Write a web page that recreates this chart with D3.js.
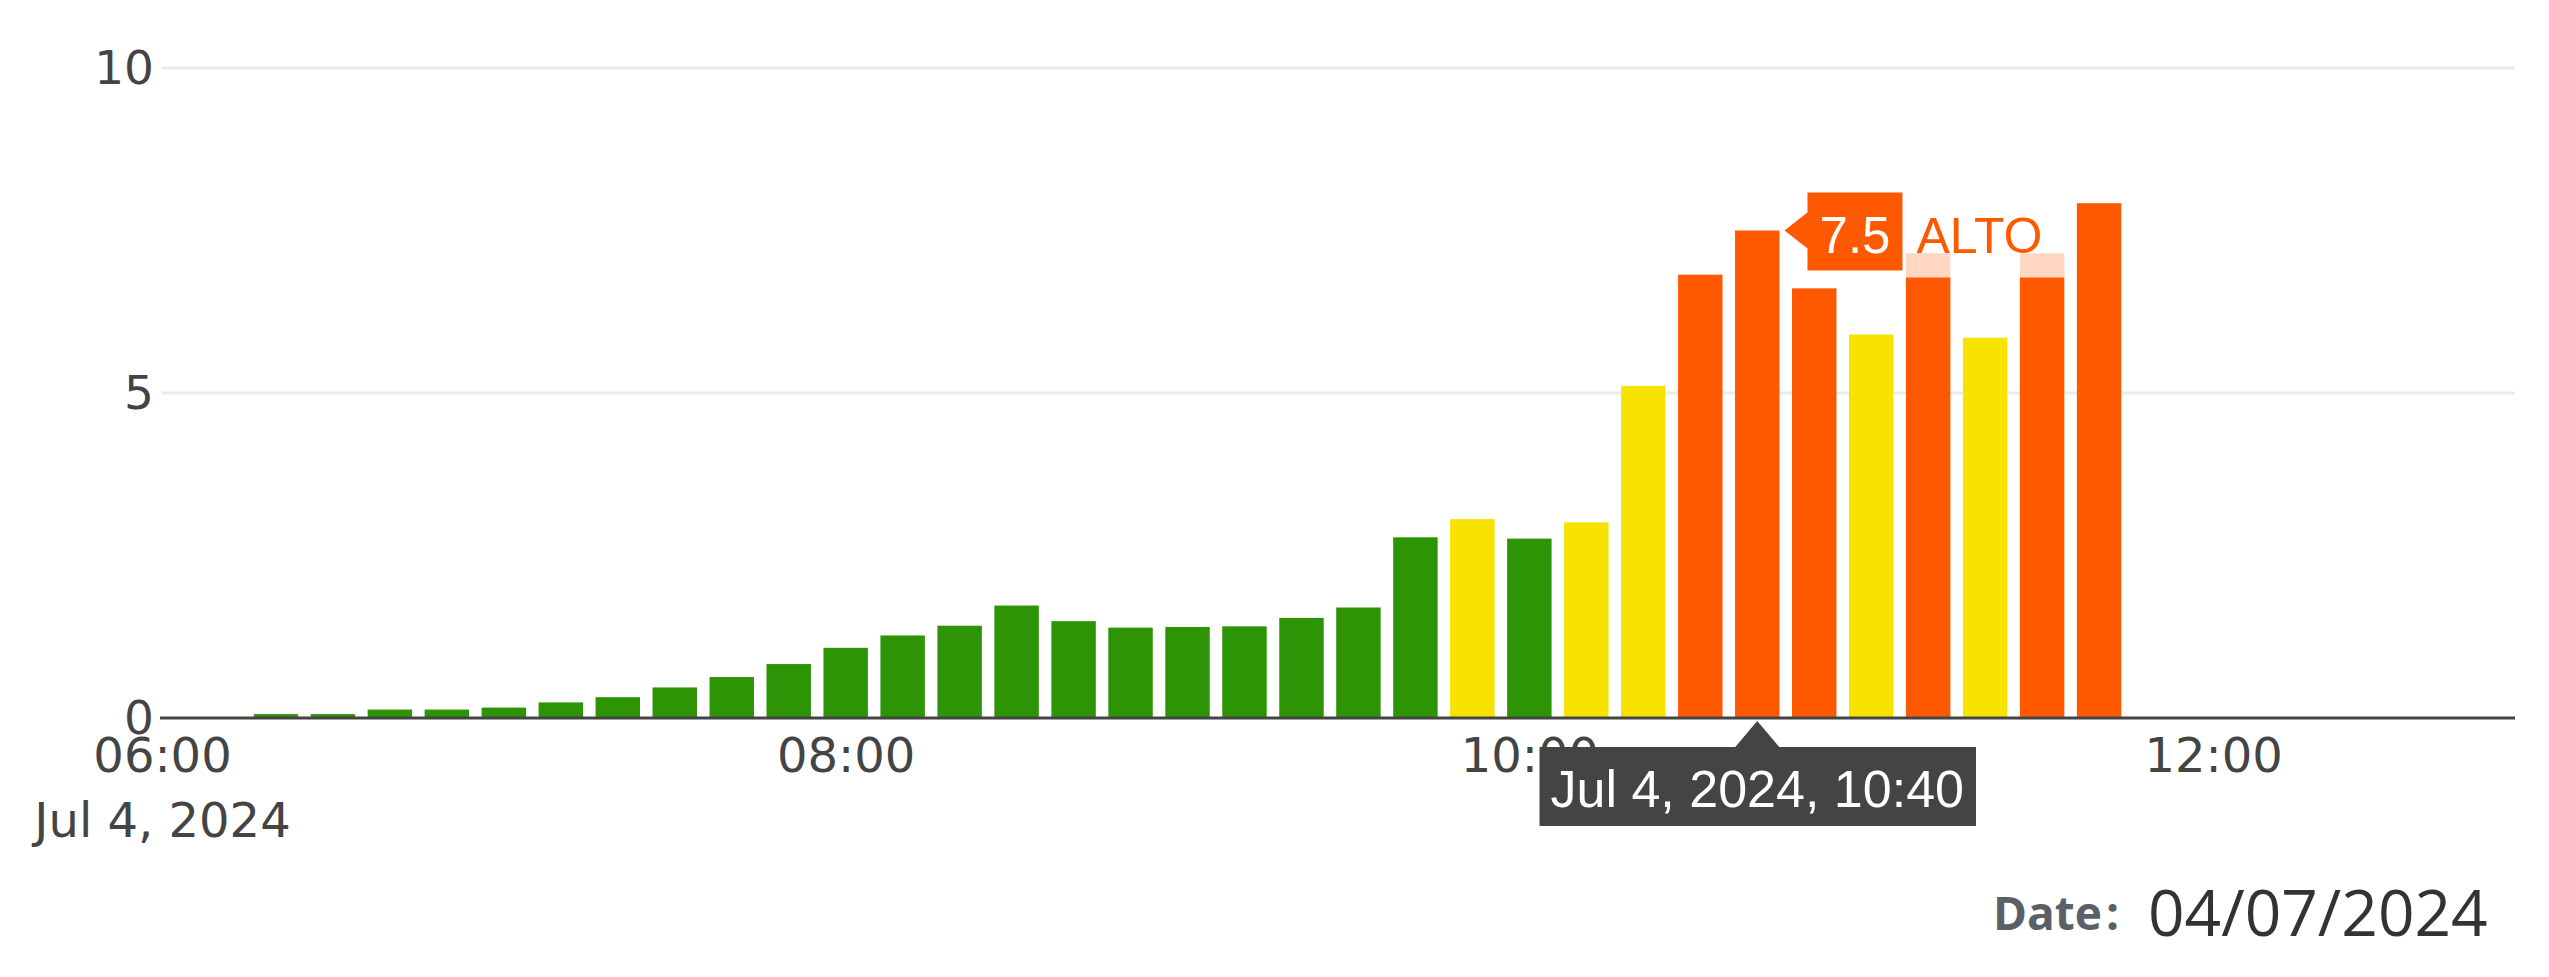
<!DOCTYPE html>
<html>
  <head>
    <meta charset="utf-8">
    <title>UV index</title>
    <script src="https://d3js.org/d3.v7.min.js"></script>
    <style>
      body { margin: 0; background: #fff; }
    </style>
  </head>
  <body>
    <div id="my_dataviz"></div>
    <script>
      // readings every 10 minutes, Jul 4 2024
      var times = ["06:20","06:30","06:40","06:50","07:00","07:10","07:20","07:30","07:40","07:50",
                   "08:00","08:10","08:20","08:30","08:40","08:50","09:00","09:10","09:20","09:30",
                   "09:40","09:50","10:00","10:10","10:20","10:30","10:40","10:50","11:00","11:10",
                   "11:20","11:30","11:40"];
      var values = [0.06,0.06,0.13,0.13,0.16,0.24,0.32,0.47,0.63,0.83,
                    1.08,1.27,1.42,1.73,1.49,1.39,1.40,1.41,1.54,1.70,
                    2.78,3.06,2.76,3.01,5.11,6.82,7.5,6.61,5.9,7.15,
                    5.85,7.15,7.92];
      var levelNames = ["BAJO", "MODERADO", "ALTO"];
      var levelColors = ["#2d9405", "#f7e200", "#fe5800"];
      var levelBreaks = [3, 6];
      var xTicks = ["06:00", "08:00", "10:00", "12:00"];
      var yTicks = [0, 5, 10];
      var xDomain = ["06:00", "12:53"];
      var hovered = "10:40";
      var dateLabel = "Date";
      var dateValue = "04/07/2024";

      var width = 2549, height = 977;
      var margin = {left: 162, right: 34, top: 68, bottom: 259};

      function toDate(s) {
        var p = s.split(":");
        return new Date(2024, 6, 4, +p[0], +p[1]);
      }

      var data = times.map(function(t, i) { return {time: toDate(t), value: values[i]}; });

      var x = d3.scaleTime()
        .domain(xDomain.map(toDate))
        .range([margin.left, width - margin.right]);
      var y = d3.scaleLinear()
        .domain([0, 10])
        .range([height - margin.bottom, margin.top]);
      var level = d3.scaleThreshold().domain(levelBreaks).range([0, 1, 2]);

      var step = x(toDate("06:30")) - x(toDate("06:20"));
      var barW = step * 0.78;

      var svg = d3.select("#my_dataviz")
        .append("svg")
        .attr("width", width)
        .attr("height", height)
        .style("font-family", "'DejaVu Sans', Verdana, sans-serif");

      // gridlines
      svg.append("g")
        .selectAll("line")
        .data(yTicks.filter(function(d) { return d > 0; }))
        .enter().append("line")
        .attr("x1", margin.left)
        .attr("x2", width - margin.right)
        .attr("y1", function(d) { return y(d); })
        .attr("y2", function(d) { return y(d); })
        .attr("stroke", "#ebebeb")
        .attr("stroke-width", 3);

      // bars
      svg.append("g")
        .selectAll("rect")
        .data(data)
        .enter().append("rect")
        .attr("x", function(d) { return x(d.time) - barW / 2; })
        .attr("y", function(d) { return y(d.value); })
        .attr("width", barW)
        .attr("height", function(d) { return y(0) - y(d.value); })
        .attr("fill", function(d) { return levelColors[level(d.value)]; });

      // y axis
      var yAxis = svg.append("g")
        .attr("transform", "translate(" + margin.left + ",0)")
        .call(d3.axisLeft(y).tickValues(yTicks).tickSize(0).tickPadding(8));
      yAxis.select(".domain").remove();
      yAxis.selectAll("text")
        .attr("fill", "#444")
        .style("font-size", "47px")
        .style("font-family", "'DejaVu Sans', Verdana, sans-serif");

      // x axis
      var xAxis = svg.append("g")
        .attr("transform", "translate(0," + y(0) + ")")
        .call(d3.axisBottom(x)
          .tickValues(xTicks.map(toDate))
          .tickFormat(d3.timeFormat("%H:%M"))
          .tickSize(0)
          .tickSizeOuter(0)
          .tickPadding(20));
      xAxis.select(".domain")
        .attr("stroke", "#444")
        .attr("stroke-width", 3)
        .attr("d", "M" + (margin.left - 2) + ",0H" + (width - margin.right));
      xAxis.selectAll("text")
        .attr("fill", "#444")
        .style("font-size", "48px")
        .style("font-family", "'DejaVu Sans', Verdana, sans-serif");
      // date under the first tick
      xAxis.selectAll(".tick")
        .filter(function(d, i) { return i === 0; })
        .select("text")
        .append("tspan")
        .attr("x", 0)
        .attr("dy", "1.36em")
        .text(d3.timeFormat("%b %-d, %Y"));

      // hover: value label
      var hd = data.filter(function(d) { return d3.timeFormat("%H:%M")(d.time) === hovered; })[0];
      var hx = x(hd.time), hy = y(hd.value);
      var tipX = hx + barW / 2 + 5;
      var boxL = tipX + 23, boxR = boxL + 95, boxT = hy - 38, boxB = hy + 40;

      var hoverG = svg.append("g").style("font-family", "'Liberation Sans', Arial, sans-serif");
      hoverG.append("rect")
        .attr("x", boxR)
        .attr("y", boxT)
        .attr("width", 167)
        .attr("height", boxB - boxT + 7)
        .attr("fill", "#fff")
        .attr("opacity", 0.76);
      hoverG.append("path")
        .attr("d", "M" + tipX + "," + hy + "L" + boxL + "," + (hy - 18) + "V" + boxT + "H" + boxR +
                   "V" + boxB + "H" + boxL + "V" + (hy + 18) + "Z")
        .attr("fill", levelColors[level(hd.value)]);
      hoverG.append("text")
        .attr("x", (boxL + boxR) / 2)
        .attr("y", hy + 22)
        .attr("text-anchor", "middle")
        .attr("fill", "#fff")
        .style("font-size", "51px")
        .text(d3.format(".1f")(hd.value));
      hoverG.append("text")
        .attr("x", boxR + 14)
        .attr("y", hy + 22)
        .attr("fill", levelColors[level(hd.value)])
        .style("font-size", "50px")
        .text(levelNames[level(hd.value)]);

      // hover: time label under the axis
      var tG = svg.append("g").style("font-family", "'Liberation Sans', Arial, sans-serif");
      var tText = tG.append("text")
        .attr("x", hx)
        .attr("y", y(0) + 89)
        .attr("text-anchor", "middle")
        .attr("fill", "#fff")
        .style("font-size", "52px")
        .text(d3.timeFormat("%b %-d, %Y, %H:%M")(hd.time));
      var bb = tText.node().getBBox();
      var tTop = y(0) + 29;
      tG.insert("path", "text")
        .attr("d", "M" + hx + "," + (y(0) + 3) + "L" + (hx + 22) + "," + tTop +
                   "H" + (bb.x + bb.width + 12) + "V" + (tTop + 79) + "H" + (bb.x - 11) +
                   "V" + tTop + "H" + (hx - 22) + "Z")
        .attr("fill", "#444");

      // date footer
      var foot = svg.append("g");
      foot.append("text")
        .attr("x", 1993)
        .attr("y", 930)
        .attr("fill", "#5b6068")
        .style("font-family", "'Open Sans', sans-serif")
        .style("font-weight", 700)
        .style("font-size", "46px")
        .text(dateLabel);
      foot.append("text")
        .attr("x", 2106)
        .attr("y", 930)
        .attr("fill", "#5b6068")
        .style("font-family", "'Open Sans', sans-serif")
        .style("font-weight", 700)
        .style("font-size", "46px")
        .text(":");
      foot.append("text")
        .attr("x", 2148)
        .attr("y", 936)
        .attr("fill", "#333")
        .style("font-family", "'Open Sans', sans-serif")
        .style("font-size", "64px")
        .text(dateValue);
    </script>
  </body>
</html>
